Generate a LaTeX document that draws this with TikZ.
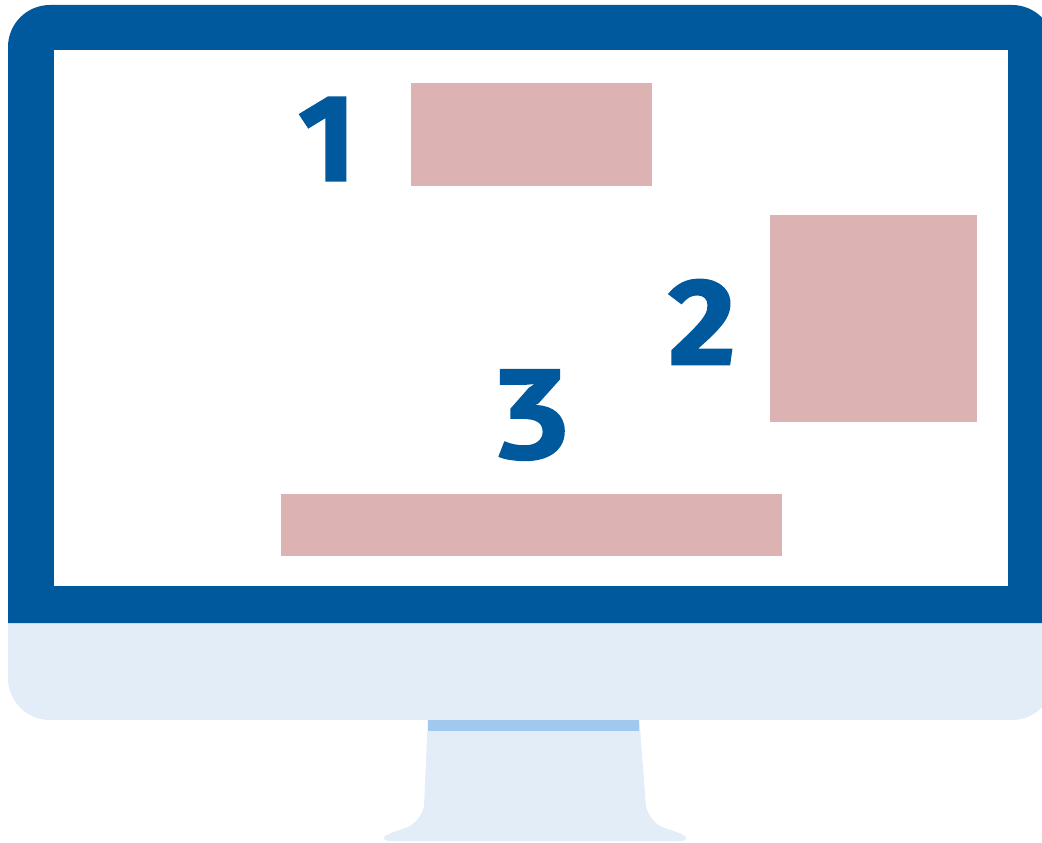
\documentclass[tikz,border=0pt]{standalone}
\usepackage{xcolor}
\usepackage{fontspec}
\newfontfamily\numberfont[BoldFeatures={FakeBold=1.6}]{Fira Sans}
\newfontfamily\flatnumberfont[BoldFeatures={FakeBold=1.6}]{PT Sans}
\definecolor{framedark}{HTML}{00599C}
\definecolor{softpale}{HTML}{E3EDF8}
\definecolor{softstrip}{HTML}{A1C8EE}
\definecolor{softpink}{HTML}{DCB3B2}
\tikzset{
  framepart/.style={fill=framedark, draw=none},
  palepart/.style={fill=softpale, draw=none},
  contentbox/.style={fill=softpink, draw=none},
  numberlabel/.style={text=framedark, font=\numberfont\bfseries\fontsize{105}{105}\selectfont, inner sep=0pt},
  flatnumberlabel/.style={numberlabel, font=\flatnumberfont\bfseries\fontsize{108}{108}\selectfont, xscale=1.2}
}
\begin{document}
\begin{tikzpicture}[x=0.03cm,y=-0.03cm]
  \useasboundingbox (0,0) rectangle (1042,842);
  \clip (0,0) rectangle (1042,842);
  % stand
  \fill[palepart] (428,715) -- (424,807) .. controls (421,816) and (416,823) .. (408,827) .. controls (400,830) and (388,833) .. (384,837) .. controls (383,840) and (386,841) .. (392,841) -- (678,841) .. controls (684,841) and (687,840) .. (686,837) .. controls (682,833) and (670,830) .. (662,827) .. controls (654,823) and (649,816) .. (646,807) -- (639,715) -- cycle;
  % chin and frame
  \fill[palepart, rounded corners=1.26cm] (8,560) -- (8,720) -- (1054,720) -- (1054,560) -- cycle;
  \fill[framepart, rounded corners=1.26cm] (8,623) [sharp corners] -- (8,400) [rounded corners=1.26cm] -- (8,5) -- (1054,5) -- (1054,400) [sharp corners] -- (1054,623) -- cycle;
  \fill[white] (54,50) rectangle (1008,586);
  \fill[softstrip] (428,720) rectangle (639,731);
  % contents
  \fill[contentbox] (411,83) rectangle (652,186);
  \fill[contentbox] (770,215) rectangle (977,422);
  \fill[contentbox] (281,494) rectangle (782,556);
  \node[numberlabel] (one) at (327,139) {1};
  \node[numberlabel, xscale=1.05] (two) at (702,322) {2};
  \node[flatnumberlabel] (three) at (531,415) {3};
\end{tikzpicture}
\end{document}
